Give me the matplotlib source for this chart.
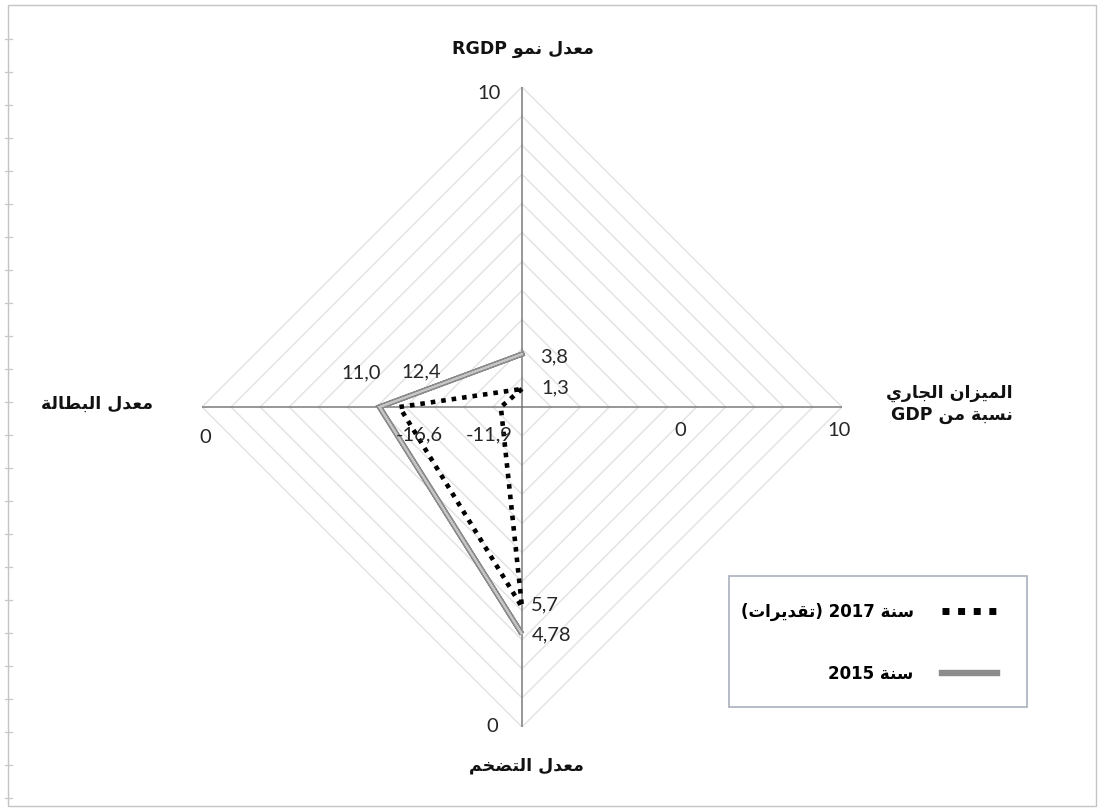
import matplotlib
matplotlib.use("Agg")
import matplotlib.pyplot as plt
from matplotlib.patches import Rectangle
from matplotlib.lines import Line2D

# ---------------------------------------------------------------- data
# indicators, clockwise from the top spoke
indicators = ["معدل نمو RGDP", "الميزان الجاري\nنسبة من GDP", "معدل التضخم", "معدل البطالة"]
values_2015 = [3.8, -16.6, 4.78, 11.0]
values_2017 = [1.3, -11.9, 5.7, 12.4]
# value found at the centre and at the rim of each spoke
axis_center = [0.0, -11.08, 12.55, 20.9]
axis_rim = [23.0, 1.33, 1.6, -1.3]
series_names = ["سنة 2017 (تقديرات)", "سنة 2015"]
rim_labels = ["10", "0", "10", "0", "0"]

# ---------------------------------------------------------------- arabic shaping
DUAL = {'ب': 0xFE8F, 'ت': 0xFE95, 'ث': 0xFE99, 'ج': 0xFE9D, 'ح': 0xFEA1, 'خ': 0xFEA5,
        'س': 0xFEB1, 'ش': 0xFEB5, 'ص': 0xFEB9, 'ض': 0xFEBD, 'ط': 0xFEC1, 'ظ': 0xFEC5,
        'ع': 0xFEC9, 'غ': 0xFECD, 'ف': 0xFED1, 'ق': 0xFED5, 'ك': 0xFED9, 'ل': 0xFEDD,
        'م': 0xFEE1, 'ن': 0xFEE5, 'ه': 0xFEE9, 'ي': 0xFEF1}
RIGHT = {'ا': 0xFE8D, 'ة': 0xFE93, 'د': 0xFEA9, 'ذ': 0xFEAB, 'ر': 0xFEAD, 'ز': 0xFEAF,
         'و': 0xFEED, 'ى': 0xFEEF}
MIRROR = {'(': ')', ')': '('}


def is_arabic(ch):
    return ch in DUAL or ch in RIGHT


def shape_word(word):
    out = []
    i = 0
    n = len(word)
    while i < n:
        ch = word[i]
        before = i > 0 and word[i - 1] in DUAL
        nxt = word[i + 1] if i + 1 < n else ''
        if ch == 'ل' and nxt == 'ا':
            out.append(chr(0xFEFC if before else 0xFEFB))
            i += 2
            continue
        if ch in DUAL:
            after = nxt in DUAL or nxt in RIGHT
            if before and after:
                out.append(chr(DUAL[ch] + 3))
            elif before:
                out.append(chr(DUAL[ch] + 1))
            elif after:
                out.append(chr(DUAL[ch] + 2))
            else:
                out.append(chr(DUAL[ch]))
        elif ch in RIGHT:
            out.append(chr(RIGHT[ch] + (1 if before else 0)))
        else:
            out.append(ch)
        i += 1
    return ''.join(out)


def rtl(text):
    lines = []
    for line in text.split('\n'):
        tokens = []
        for tok in line.split(' '):
            if any(is_arabic(c) for c in tok):
                vis = shape_word(tok)[::-1]
                vis = ''.join(MIRROR.get(c, c) for c in vis)
                tokens.append(vis)
            else:
                tokens.append(tok)
        lines.append(' '.join(tokens[::-1]))
    return '\n'.join(lines)


def fmt(v):
    s = f"{v:.1f}" if round(v, 1) == v else f"{v:.2f}"
    return s.replace('.', ',')


# ---------------------------------------------------------------- figure
W, H = 1102, 810
fig = plt.figure(figsize=(W / 100, H / 100), dpi=100)
fig.patch.set_facecolor('white')

# outer chart frame with the small ruler ticks on its left side
fig.add_artist(Rectangle((8 / W, 4 / H), (1096 - 8) / W, (805 - 4) / H,
                         transform=fig.transFigure, fill=False,
                         edgecolor='#c4c4c4', linewidth=1))
for ty in range(6, 800, 33):
    if ty < 10:
        continue
    fig.add_artist(Line2D([5 / W, 12 / W], [1 - ty / H, 1 - ty / H],
                          transform=fig.transFigure, color='#c8c8c8', lw=0.9))

cx, cy, R = 522, 407, 320
ax = fig.add_axes([(cx - R) / W, (H - cy - R) / H, 2 * R / W, 2 * R / H])
ax.set_xlim(-1, 1)
ax.set_ylim(-1, 1)
ax.axis('off')

directions = [(0, 1), (1, 0), (0, -1), (-1, 0)]
AR_FONT = dict(family='DejaVu Sans', weight='bold', size=12.5, color='#111111')
NUM_FONT = dict(family='Lato', size=14.5, color='#262626')

# concentric diamond grid
n_rings = 11
for k in range(1, n_rings + 1):
    r = k / n_rings
    ax.plot([0, r, 0, -r, 0], [r, 0, -r, 0, r], color='#e4e4e4', lw=1.1, zorder=1)
# spokes
for dx, dy in directions:
    ax.plot([0, dx], [0, dy], color='#7a7a7a', lw=1.1, zorder=2)


def polygon(values):
    xs, ys = [], []
    for v, c, rim, (dx, dy) in zip(values, axis_center, axis_rim, directions):
        r = (v - c) / (rim - c)
        xs.append(r * dx)
        ys.append(r * dy)
    return xs + xs[:1], ys + ys[:1]


x15, y15 = polygon(values_2015)
x17, y17 = polygon(values_2017)

ax.plot(x15, y15, color='#8c8c8c', lw=3.8, solid_joinstyle='miter', zorder=3)
ax.plot(x15, y15, color='#c6c6c6', lw=1.3, solid_joinstyle='miter', zorder=3.1)
ax.plot(x17, y17, color='black', lw=3.3, linestyle=(0, (1, 1.3)), zorder=4)

# value labels (offsets in pixels from each point)
off_2015 = [(32, -3), (40, -28), (30, -1), (-18, 34)]
off_2017 = [(33, 1), (-12, -28), (23, 2), (22, 35)]
for xs, ys, vals, offs in ((x15, y15, values_2015, off_2015), (x17, y17, values_2017, off_2017)):
    for i, v in enumerate(vals):
        ax.annotate(fmt(v), (xs[i], ys[i]), xytext=offs[i], textcoords='offset pixels',
                    ha='center', va='center', zorder=5, **NUM_FONT)

# rim labels
rim_pos = [(-0.103, 0.981), (0.494, -0.072), (0.99, -0.075), (-0.094, -1.0), (-0.99, -0.094)]
for txt, (px, py) in zip(rim_labels, rim_pos):
    ax.text(px, py, txt, ha='center', va='center', **NUM_FONT)

# indicator names
ax.text(0.003, 1.119, rtl(indicators[0]), ha='center', va='center', **AR_FONT)
ax.text(1.534, 0.009, rtl(indicators[1]), ha='right', va='center', multialignment='right',
        linespacing=1.3, **AR_FONT)
ax.text(0.0125, -1.119, rtl(indicators[2]), ha='center', va='center', **AR_FONT)
ax.text(-1.328, 0.009, rtl(indicators[3]), ha='center', va='center', **AR_FONT)
for t in ax.texts:
    t.set_clip_on(False)

# legend
fig.add_artist(Rectangle((729 / W, (H - 707) / H), 298 / W, 131 / H,
                         transform=fig.transFigure, facecolor='white',
                         edgecolor='#a9b0bb', linewidth=1.2, zorder=5))
handles = [Line2D([], [], color='black', lw=5, linestyle=(0, (1, 1.25))),
           Line2D([], [], color='#8c8c8c', lw=4.6)]
leg = fig.legend(handles, [rtl(s) for s in series_names], loc='center right',
                 bbox_to_anchor=(997 / W, 1 - 643 / H), bbox_transform=fig.transFigure,
                 frameon=False, markerfirst=False, borderpad=0, borderaxespad=0,
                 handlelength=3.3, handletextpad=1.7, labelspacing=2.6,
                 prop=dict(family='DejaVu Sans', weight='bold', size=12))
leg.set_zorder(6)

fig.savefig('out.png', dpi=100, facecolor='white')
